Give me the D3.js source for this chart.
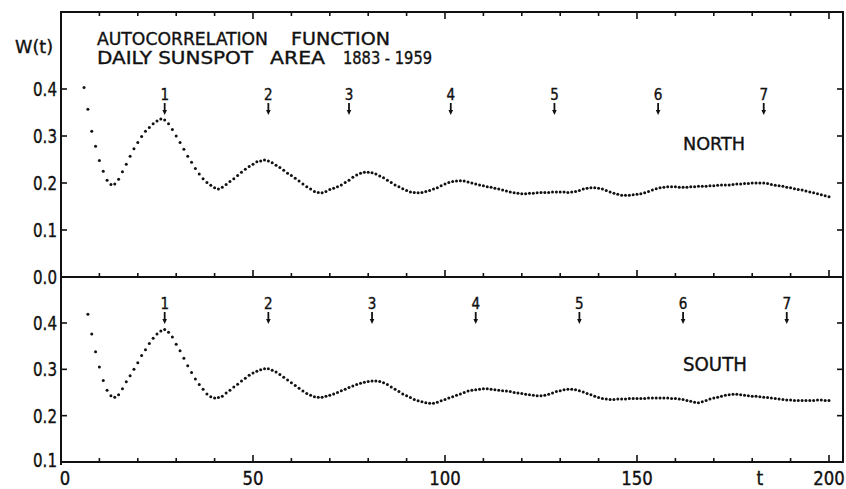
<!DOCTYPE html>
<html>
<head>
<meta charset="utf-8">
<script src="https://cdn.jsdelivr.net/npm/d3@7"></script>
<style>
  body { margin: 0; background: #fff; }
  svg { display: block; }
  text { font-family: "DejaVu Sans Condensed", "Liberation Sans", sans-serif; fill: #111; stroke: #111; stroke-width: 0.35px; }
</style>
</head>
<body>
<div class="canvas"></div>
<script>
// autocorrelation values, one per day lag
const northStart = 6;
const northValues = [
  0.403, 0.357, 0.310, 0.278, 0.248, 0.225, 0.206, 0.197, 0.198, 0.208,
  0.224, 0.240, 0.257, 0.273, 0.286, 0.299, 0.310, 0.318, 0.326, 0.332,
  0.336, 0.334, 0.326, 0.314, 0.300, 0.286, 0.272, 0.257, 0.244, 0.231,
  0.219, 0.209, 0.201, 0.195, 0.190, 0.187, 0.191, 0.197, 0.203, 0.209,
  0.216, 0.223, 0.229, 0.235, 0.240, 0.245, 0.247, 0.249, 0.247, 0.243,
  0.238, 0.233, 0.227, 0.221, 0.216, 0.210, 0.204, 0.198, 0.192, 0.187,
  0.182, 0.180, 0.179, 0.182, 0.186, 0.189, 0.192, 0.196, 0.201, 0.206,
  0.212, 0.217, 0.221, 0.223, 0.223, 0.222, 0.219, 0.215, 0.211, 0.206,
  0.201, 0.196, 0.192, 0.188, 0.184, 0.181, 0.180, 0.179, 0.180, 0.182,
  0.184, 0.187, 0.190, 0.194, 0.198, 0.201, 0.203, 0.204, 0.205, 0.204,
  0.202, 0.200, 0.198, 0.196, 0.194, 0.192, 0.191, 0.189, 0.187, 0.185,
  0.183, 0.181, 0.179, 0.178, 0.177, 0.177, 0.178, 0.178, 0.179, 0.180,
  0.180, 0.180, 0.181, 0.181, 0.181, 0.181, 0.180, 0.181, 0.182, 0.184,
  0.187, 0.189, 0.190, 0.190, 0.189, 0.187, 0.184, 0.181, 0.178, 0.176,
  0.174, 0.174, 0.174, 0.175, 0.176, 0.177, 0.179, 0.182, 0.185, 0.188,
  0.190, 0.191, 0.192, 0.192, 0.192, 0.191, 0.191, 0.191, 0.192, 0.192,
  0.193, 0.193, 0.193, 0.194, 0.194, 0.195, 0.196, 0.196, 0.196, 0.197,
  0.198, 0.198, 0.199, 0.199, 0.200, 0.200, 0.200, 0.200, 0.199, 0.197,
  0.195, 0.194, 0.193, 0.191, 0.190, 0.188, 0.186, 0.185, 0.183, 0.181,
  0.179, 0.177, 0.175, 0.173, 0.171
];

const southStart = 7;
const southValues = [
  0.419, 0.376, 0.338, 0.305, 0.276, 0.255, 0.243, 0.240, 0.245, 0.258,
  0.273, 0.286, 0.300, 0.314, 0.330, 0.342, 0.356, 0.367, 0.376, 0.383,
  0.386, 0.380, 0.370, 0.354, 0.340, 0.324, 0.308, 0.293, 0.279, 0.267,
  0.257, 0.247, 0.241, 0.238, 0.239, 0.242, 0.249, 0.255, 0.262, 0.268,
  0.275, 0.281, 0.287, 0.292, 0.296, 0.299, 0.301, 0.301, 0.298, 0.294,
  0.289, 0.283, 0.277, 0.271, 0.265, 0.259, 0.253, 0.248, 0.244, 0.241,
  0.240, 0.240, 0.242, 0.244, 0.247, 0.250, 0.254, 0.257, 0.261, 0.264,
  0.267, 0.270, 0.272, 0.274, 0.275, 0.275, 0.274, 0.271, 0.267, 0.262,
  0.257, 0.252, 0.247, 0.243, 0.239, 0.235, 0.232, 0.230, 0.228, 0.227,
  0.227, 0.229, 0.232, 0.235, 0.238, 0.241, 0.244, 0.247, 0.250, 0.253,
  0.255, 0.256, 0.257, 0.258, 0.258, 0.257, 0.256, 0.255, 0.254, 0.253,
  0.252, 0.250, 0.249, 0.248, 0.246, 0.245, 0.244, 0.243, 0.243, 0.244,
  0.246, 0.249, 0.252, 0.254, 0.256, 0.257, 0.257, 0.256, 0.254, 0.251,
  0.248, 0.245, 0.242, 0.239, 0.237, 0.236, 0.235, 0.235, 0.236, 0.236,
  0.236, 0.237, 0.237, 0.237, 0.237, 0.237, 0.238, 0.238, 0.238, 0.238,
  0.238, 0.238, 0.237, 0.237, 0.236, 0.235, 0.233, 0.231, 0.229, 0.228,
  0.230, 0.233, 0.236, 0.238, 0.240, 0.242, 0.244, 0.245, 0.246, 0.246,
  0.245, 0.244, 0.243, 0.242, 0.242, 0.241, 0.240, 0.239, 0.238, 0.237,
  0.236, 0.235, 0.234, 0.234, 0.233, 0.233, 0.233, 0.233, 0.233, 0.233,
  0.234, 0.234, 0.233, 0.233
];

// rotation markers (lag in days) with their labels
const northMarks = [27, 54, 75, 101.5, 128.5, 155.5, 183];
const southMarks = [27, 54, 81, 108, 135, 162, 189];
const markLabels = ['1', '2', '3', '4', '5', '6', '7'];

const xTicks = [0, 50, 100, 150, 200];
const northTicks = [0.0, 0.1, 0.2, 0.3, 0.4];
const southTicks = [0.1, 0.2, 0.3, 0.4];

const dims = {width: 846, height: 489};

const svg = d3.select('.canvas')
  .append('svg')
  .attr('width', dims.width)
  .attr('height', dims.height);

svg.append('rect').attr('width', dims.width).attr('height', dims.height).attr('fill', '#fff');

const x = d3.scaleLinear().domain([0, 200]).range([61, 829]);
const right = 843;
const yN = d3.scaleLinear().domain([0, 0.4]).range([277, 89]);
const yS = d3.scaleLinear().domain([0.1, 0.4]).range([462, 323]);
const topEdge = 12;

const ink = '#111';

// frame
const frame = svg.append('g').attr('stroke', ink).attr('stroke-width', 2).attr('fill', 'none');
frame.append('line').attr('x1', 61).attr('x2', 61).attr('y1', topEdge - 1).attr('y2', 465);
frame.append('line').attr('x1', right).attr('x2', right).attr('y1', topEdge - 1).attr('y2', 463);
frame.append('line').attr('x1', 60).attr('x2', right + 1).attr('y1', topEdge).attr('y2', topEdge);
frame.append('line').attr('x1', 60).attr('x2', right + 1).attr('y1', yN(0)).attr('y2', yN(0));
frame.append('line').attr('x1', 60).attr('x2', right + 1).attr('y1', yS(0.1)).attr('y2', yS(0.1));

// x ticks, every 10 days, pointing into the panels
const xt = d3.range(0, 201, 10);
const tickG = svg.append('g').attr('stroke', ink).attr('stroke-width', 1.6);
const xTickSets = [{y: topEdge, dir: 1}, {y: yN(0), dir: -1}, {y: yS(0.1), dir: -1}];
xTickSets.forEach(s => {
  tickG.selectAll(null)
    .data(xt.filter(d => d > 0))
    .enter().append('line')
    .attr('x1', d => x(d)).attr('x2', d => x(d))
    .attr('y1', s.y)
    .attr('y2', d => s.y + s.dir * (d % 50 === 0 ? 7 : 4));
});

// y ticks on both sides, pointing inward
const yTickSets = [{scale: yN, ticks: northTicks.filter(d => d > 0)}, {scale: yS, ticks: southTicks.filter(d => d > 0.1)}];
yTickSets.forEach(s => {
  tickG.selectAll(null).data(s.ticks).enter().append('line')
    .attr('x1', 61).attr('x2', 67)
    .attr('y1', d => s.scale(d)).attr('y2', d => s.scale(d));
  tickG.selectAll(null).data(s.ticks).enter().append('line')
    .attr('x1', right).attr('x2', right - 6)
    .attr('y1', d => s.scale(d)).attr('y2', d => s.scale(d));
});

// y tick labels
const fmt = d3.format('.1f');
const yLabel = (data, scale) => svg.append('g').selectAll('text').data(data).enter().append('text')
  .attr('x', 33).attr('y', d => scale(d) + 7)
  .attr('font-size', 20)
  .attr('textLength', 24).attr('lengthAdjust', 'spacingAndGlyphs')
  .text(d => fmt(d));
yLabel(northTicks, yN);
yLabel(southTicks.filter(d => d > 0.1), yS);
// lowest label sits a little higher so it clears the "0" below it
svg.append('text').attr('x', 33).attr('y', yS(0.1) + 5)
  .attr('font-size', 20)
  .attr('textLength', 24).attr('lengthAdjust', 'spacingAndGlyphs')
  .text(fmt(southTicks[0]));

// x tick labels
svg.append('g').selectAll('text').data(xTicks).enter().append('text')
  .attr('x', d => x(d) + (d === 0 ? 4 : 0)).attr('y', 485)
  .attr('text-anchor', 'middle').attr('font-size', 19)
  .attr('textLength', d => String(d).length * 10.5).attr('lengthAdjust', 'spacingAndGlyphs')
  .text(d => d);
svg.append('text').attr('x', x(182)).attr('y', 485)
  .attr('text-anchor', 'middle').attr('font-size', 19).text('t');

svg.append('text').attr('x', 15).attr('y', 53).attr('font-size', 18)
  .attr('textLength', 38).attr('lengthAdjust', 'spacingAndGlyphs').text('W(t)');

// title
const title = [
  {t: 'AUTOCORRELATION', x: 97, y: 45, w: 171},
  {t: 'FUNCTION', x: 291, y: 45, w: 99},
  {t: 'DAILY SUNSPOT', x: 97, y: 64, w: 156},
  {t: 'AREA', x: 270, y: 64, w: 55},
  {t: '1883 - 1959', x: 343, y: 64, w: 89}
];
svg.append('g').selectAll('text').data(title).enter().append('text')
  .attr('x', d => d.x).attr('y', d => d.y)
  .attr('font-size', 18)
  .attr('textLength', d => d.w).attr('lengthAdjust', 'spacingAndGlyphs')
  .text(d => d.t);

svg.append('text').attr('x', 683).attr('y', 150).attr('font-size', 18)
  .attr('textLength', 62).attr('lengthAdjust', 'spacingAndGlyphs').text('NORTH');
svg.append('text').attr('x', 683).attr('y', 371).attr('font-size', 19)
  .attr('textLength', 64).attr('lengthAdjust', 'spacingAndGlyphs').text('SOUTH');

// markers
const drawMarks = (marks, numY, a0, a1) => {
  const g = svg.append('g');
  const m = g.selectAll('g').data(marks).enter().append('g')
    .attr('transform', d => `translate(${x(d)},0)`);
  m.append('text').attr('y', numY).attr('text-anchor', 'middle')
    .attr('font-size', 15).text((d, i) => markLabels[i]);
  m.append('line').attr('x1', 0).attr('x2', 0).attr('y1', a0).attr('y2', a1 - 3)
    .attr('stroke', ink).attr('stroke-width', 1.8);
  m.append('path').attr('d', `M-2.3,${a1 - 5}L2.3,${a1 - 5}L0,${a1}Z`).attr('fill', ink);
};
drawMarks(northMarks, 100, 103, 115);
drawMarks(southMarks, 309, 312, 324);

// dotted curves
const north = northValues.map((v, i) => ({t: northStart + i, v}));
const south = southValues.map((v, i) => ({t: southStart + i, v}));

svg.append('g').selectAll('circle').data(north).enter().append('circle')
  .attr('cx', d => x(d.t)).attr('cy', d => yN(d.v)).attr('r', 1.5).attr('fill', ink);
svg.append('g').selectAll('circle').data(south).enter().append('circle')
  .attr('cx', d => x(d.t)).attr('cy', d => yS(d.v)).attr('r', 1.5).attr('fill', ink);
</script>
</body>
</html>
